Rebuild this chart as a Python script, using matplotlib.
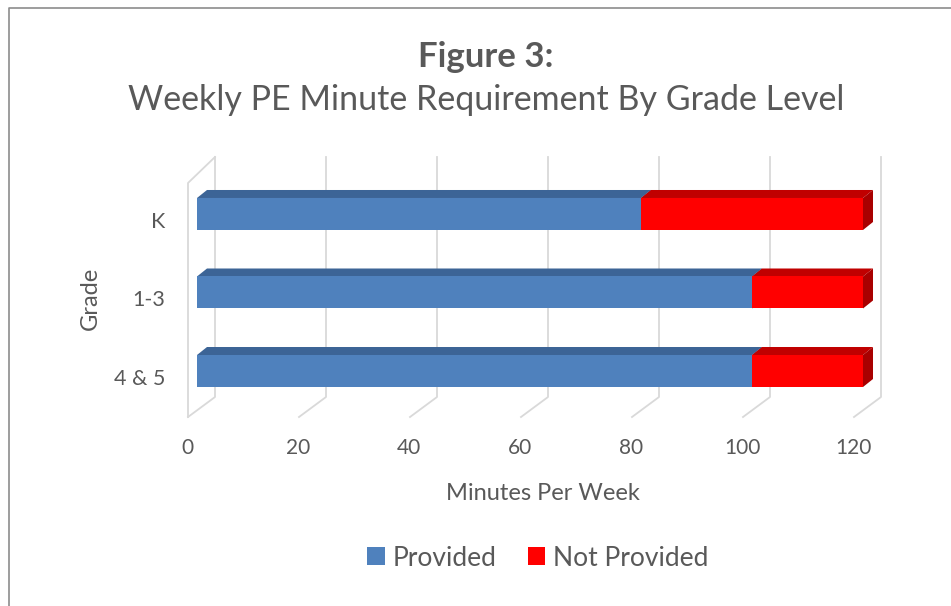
import matplotlib
matplotlib.use('Agg')
import matplotlib.pyplot as plt
from matplotlib.patches import Polygon, Rectangle, Patch
from matplotlib.lines import Line2D

grades = ['K', '1-3', '4 & 5']
provided = [80, 100, 100]
not_provided = [40, 20, 20]
x_ticks = [0, 20, 40, 60, 80, 100, 120]

plt.rcParams['font.family'] = ['Lato', 'DejaVu Sans']
txt = '#595959'
grid_c = '#d9d9d9'
blue, blue_top = '#4f81bd', '#3c6496'
red, red_top, red_side = '#ff0000', '#c00000', '#a80000'

W, H = 951, 606
fig = plt.figure(figsize=(W / 100, H / 100), dpi=100)

# front plane of the bars
ax = fig.add_axes([197 / W, 1 - 420 / H, 666 / W, 270 / H])
ax.set_xlim(0, 120)
ax.set_ylim(2.624, -0.815)
ax.axis('off')

kx = 120 / 666            # minutes per pixel
ky = (2.624 + 0.815) / 270  # category units per pixel
bar_h = 32 * ky
dx, dy = 10 * kx, 8 * ky   # bar depth

ys = list(range(len(grades)))
last = ys[-1]
grid_top = ys[0] - 57 * ky
wall_bot = last + 26 * ky
floor_front = last + 46 * ky
back_x, front_x = 18 * kx, -9 * kx

# back wall gridlines + floor lines
for v in x_ticks:
    ax.add_line(Line2D([v + back_x, v + back_x, v + front_x],
                       [grid_top, wall_bot, floor_front],
                       color=grid_c, lw=1.3, zorder=1, clip_on=False))
# left wall edge
ax.add_line(Line2D([back_x, front_x, front_x],
                   [grid_top, grid_top + 26 * ky, floor_front],
                   color=grid_c, lw=1.3, zorder=1, clip_on=False))


def bar3d(x0, x1, y, front, top, side):
    t, b = y - bar_h / 2, y + bar_h / 2
    ax.add_patch(Polygon([(x0, t), (x1, t), (x1 + dx, t - dy), (x0 + dx, t - dy)],
                         closed=True, fc=top, ec='none', zorder=3, clip_on=False))
    ax.add_patch(Polygon([(x1, t), (x1 + dx, t - dy), (x1 + dx, b - dy), (x1, b)],
                         closed=True, fc=side, ec='none', zorder=3, clip_on=False))
    ax.add_patch(Rectangle((x0, t), x1 - x0, bar_h, fc=front, ec='none', zorder=4,
                           clip_on=False))


for y, p, n in zip(ys, provided, not_provided):
    bar3d(0, p, y, blue, blue_top, blue_top)
    bar3d(p, p + n, y, red, red_top, red_side)

for v in x_ticks:
    ax.text(v - 10 * kx, floor_front + 31 * ky, str(v), ha='center', va='center',
            fontsize=15, color=txt, clip_on=False)
for y, g in zip(ys, grades):
    ax.text(-32 * kx, y + 8 * ky, g, ha='right', va='center',
            fontsize=15.5, color=txt, clip_on=False)

fig.text(543 / W, 1 - 493 / H, 'Minutes Per Week', ha='center', va='center',
         fontsize=17, color=txt)
fig.text(90 / W, 1 - 298 / H, 'Grade', ha='center', va='center', rotation=90,
         fontsize=17, color=txt)

fig.text(486 / W, 1 - 57 / H, 'Figure 3:', ha='center', va='center',
         fontsize=25, fontweight='bold', color=txt)
fig.text(486 / W, 1 - 100 / H, 'Weekly PE Minute Requirement By Grade Level',
         ha='center', va='center', fontsize=24.5, color=txt)

handles = [Patch(fc=blue, label='Provided'), Patch(fc=red, label='Not Provided')]
fig.legend(handles=handles, loc='center', bbox_to_anchor=(538 / W, 1 - 558 / H),
           ncol=2, frameon=False, fontsize=19, labelcolor=txt,
           handlelength=0.65, handleheight=0.65, handletextpad=0.3, columnspacing=1.2)

# chart border
fig.add_artist(Line2D([9 / W, 9 / W, 1], [0, 1 - 8 / H, 1 - 8 / H],
                      color='#8c8c8c', lw=1.2))

fig.savefig('out.png', dpi=100)
